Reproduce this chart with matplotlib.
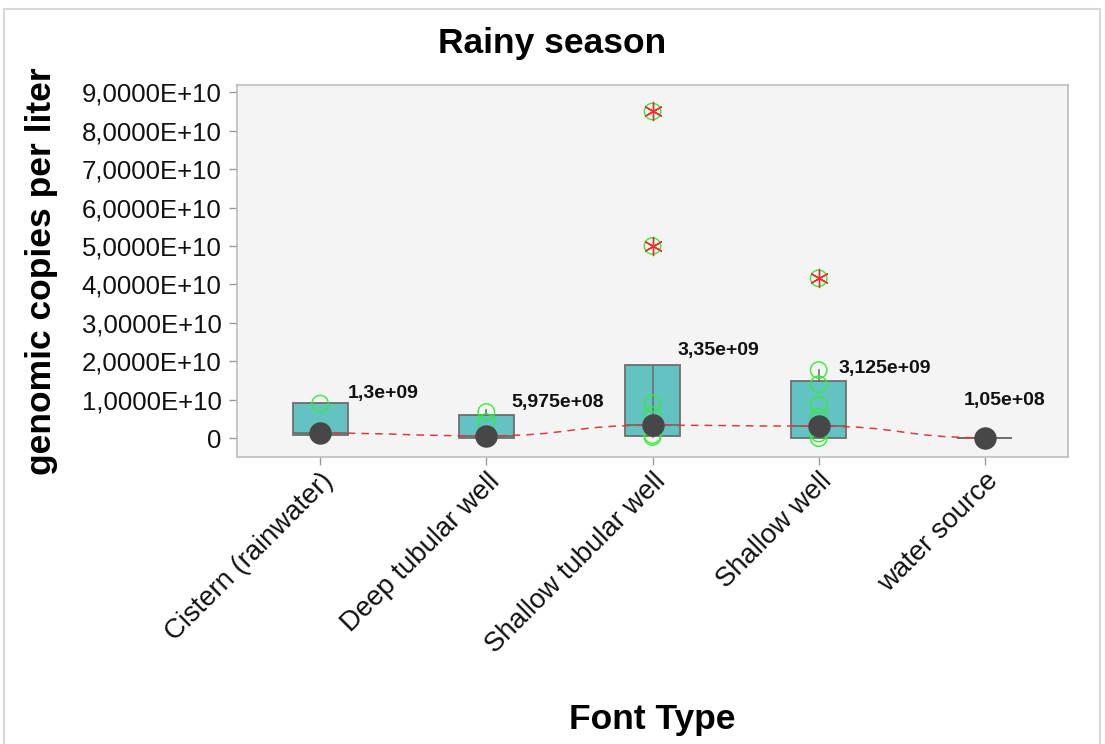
import matplotlib
matplotlib.use("agg")
import matplotlib.pyplot as plt
from matplotlib.path import Path
from matplotlib.patches import PathPatch, Rectangle

plt.rcParams['font.family'] = ['Liberation Sans', 'DejaVu Sans']

categories = ["Cistern (rainwater)", "Deep tubular well", "Shallow tubular well",
              "Shallow well", "water source"]
q1 = [0.08e10, 0.0, 0.05e10, 0.0, 0.0105e10]
medians = [1.3e9, 5.975e8, 3.35e9, 3.125e9, 1.05e8]
q3 = [0.91e10, 0.60e10, 1.90e10, 1.49e10, 0.0105e10]
whis_lo = [0.08e10, 0.0, 0.03e10, 0.0, 0.0105e10]
whis_hi = [0.91e10, 0.73e10, 1.90e10, 1.77e10, 0.0105e10]
points = [
    [0.90e10, 0.13e10],
    [0.68e10, 0.42e10, 0.0],
    [0.90e10, 0.60e10, 0.30e10, 0.08e10, 0.03e10],
    [1.77e10, 1.40e10, 0.86e10, 0.55e10, 0.29e10, 0.12e10, 0.0],
    [0.0105e10],
]
outliers = [[], [], [8.5e10, 5.0e10], [4.16e10], []]
median_labels = ["1,3e+09", "5,975e+08", "3,35e+09", "3,125e+09", "1,05e+08"]
label_y = [1.15e10, 0.94e10, 2.27e10, 1.80e10, 0.99e10]
label_dx = [20, 18, 18, 14, -15]  # points

fig = plt.figure(figsize=(11.05, 7.44), dpi=100)
fig.patches.append(Rectangle((4 / 1105, -0.1), 1096 / 1105, 1.1 - 9 / 744,
                             transform=fig.transFigure, fill=False,
                             edgecolor='#d8d8d8', linewidth=1.5))
ax = fig.add_axes([0.2145, 0.3858, 0.752, 0.5])
ax.set_facecolor('#f4f4f4')
for s in ax.spines.values():
    s.set_color('#bdbdbd')
    s.set_linewidth(1.2)

pos = list(range(len(categories)))
stats = []
for i in pos:
    stats.append({'med': medians[i], 'q1': q1[i], 'q3': q3[i],
                  'whislo': whis_lo[i], 'whishi': whis_hi[i], 'fliers': []})
ax.bxp(stats, positions=pos, widths=0.33, patch_artist=True, showcaps=False,
       showfliers=False,
       boxprops=dict(facecolor='#63c2c2', edgecolor='#6e6e6e', linewidth=1.3),
       medianprops=dict(color='#6e6e6e', linewidth=1.3),
       whiskerprops=dict(color='#6e6e6e', linewidth=1.2), zorder=2)

# inner line of the shallow tubular box
ax.vlines(2, medians[2], q3[2], color='#6e6e6e', linewidth=1.2, zorder=3)

for i in pos:
    ax.scatter([i] * len(points[i]), points[i], s=140, facecolors='none',
               edgecolors='#33ee33', linewidths=1.0, zorder=4)
    if outliers[i]:
        ax.scatter([i] * len(outliers[i]), outliers[i], s=140, facecolors='none',
                   edgecolors='#33ee33', linewidths=1.0, zorder=4)
        ax.scatter([i] * len(outliers[i]), outliers[i], s=170, marker=(6, 2, 0),
                   color='#e8302a', linewidths=1.0, zorder=5)

# smooth dashed connector through medians
verts = [(pos[0], medians[0])]
codes = [Path.MOVETO]
for i in range(len(pos) - 1):
    x0, x1 = pos[i], pos[i + 1]
    y0, y1 = medians[i], medians[i + 1]
    verts += [(x0 + 0.5, y0), (x1 - 0.5, y1), (x1, y1)]
    codes += [Path.CURVE4] * 3
ax.add_patch(PathPatch(Path(verts, codes), fill=False, edgecolor='#e03a3a',
                       linestyle=(0, (5, 4)), linewidth=1.1, zorder=3))

ax.scatter(pos, medians, s=230, color='#474747', zorder=6)

for i in pos:
    ax.annotate(median_labels[i], xy=(i, label_y[i]), xytext=(label_dx[i], 0),
                textcoords='offset points', ha='left', va='center',
                fontsize=14, fontweight='bold', color='#111111')

ax.set_xlim(-0.5, 4.5)
ax.set_ylim(-0.49e10, 9.19e10)
ticks = [k * 1e10 for k in range(10)]
ax.set_yticks(ticks)
ax.set_yticklabels(["0"] + [f"{k:.4f}".replace('.', ',') + "E+10" for k in range(1, 10)])
ax.set_xticks(pos)
ax.set_xticklabels(categories, rotation=45, ha='right', rotation_mode='anchor')
ax.tick_params(axis='both', colors='#9a9a9a', labelcolor='#111111',
               length=6, width=1)
ax.tick_params(axis='y', labelsize=18.5, pad=5)
ax.tick_params(axis='x', labelsize=19.8, pad=2)

fig.suptitle("Rainy season", x=0.5, y=1 - 44 / 744, va='center',
             fontsize=25.5, fontweight='bold')
ax.set_ylabel("genomic copies per liter", fontsize=25.5, fontweight='bold', labelpad=17)
ax.set_xlabel("Font Type", fontsize=25.5, fontweight='bold', labelpad=32)

fig.savefig("out.png", dpi=100)
